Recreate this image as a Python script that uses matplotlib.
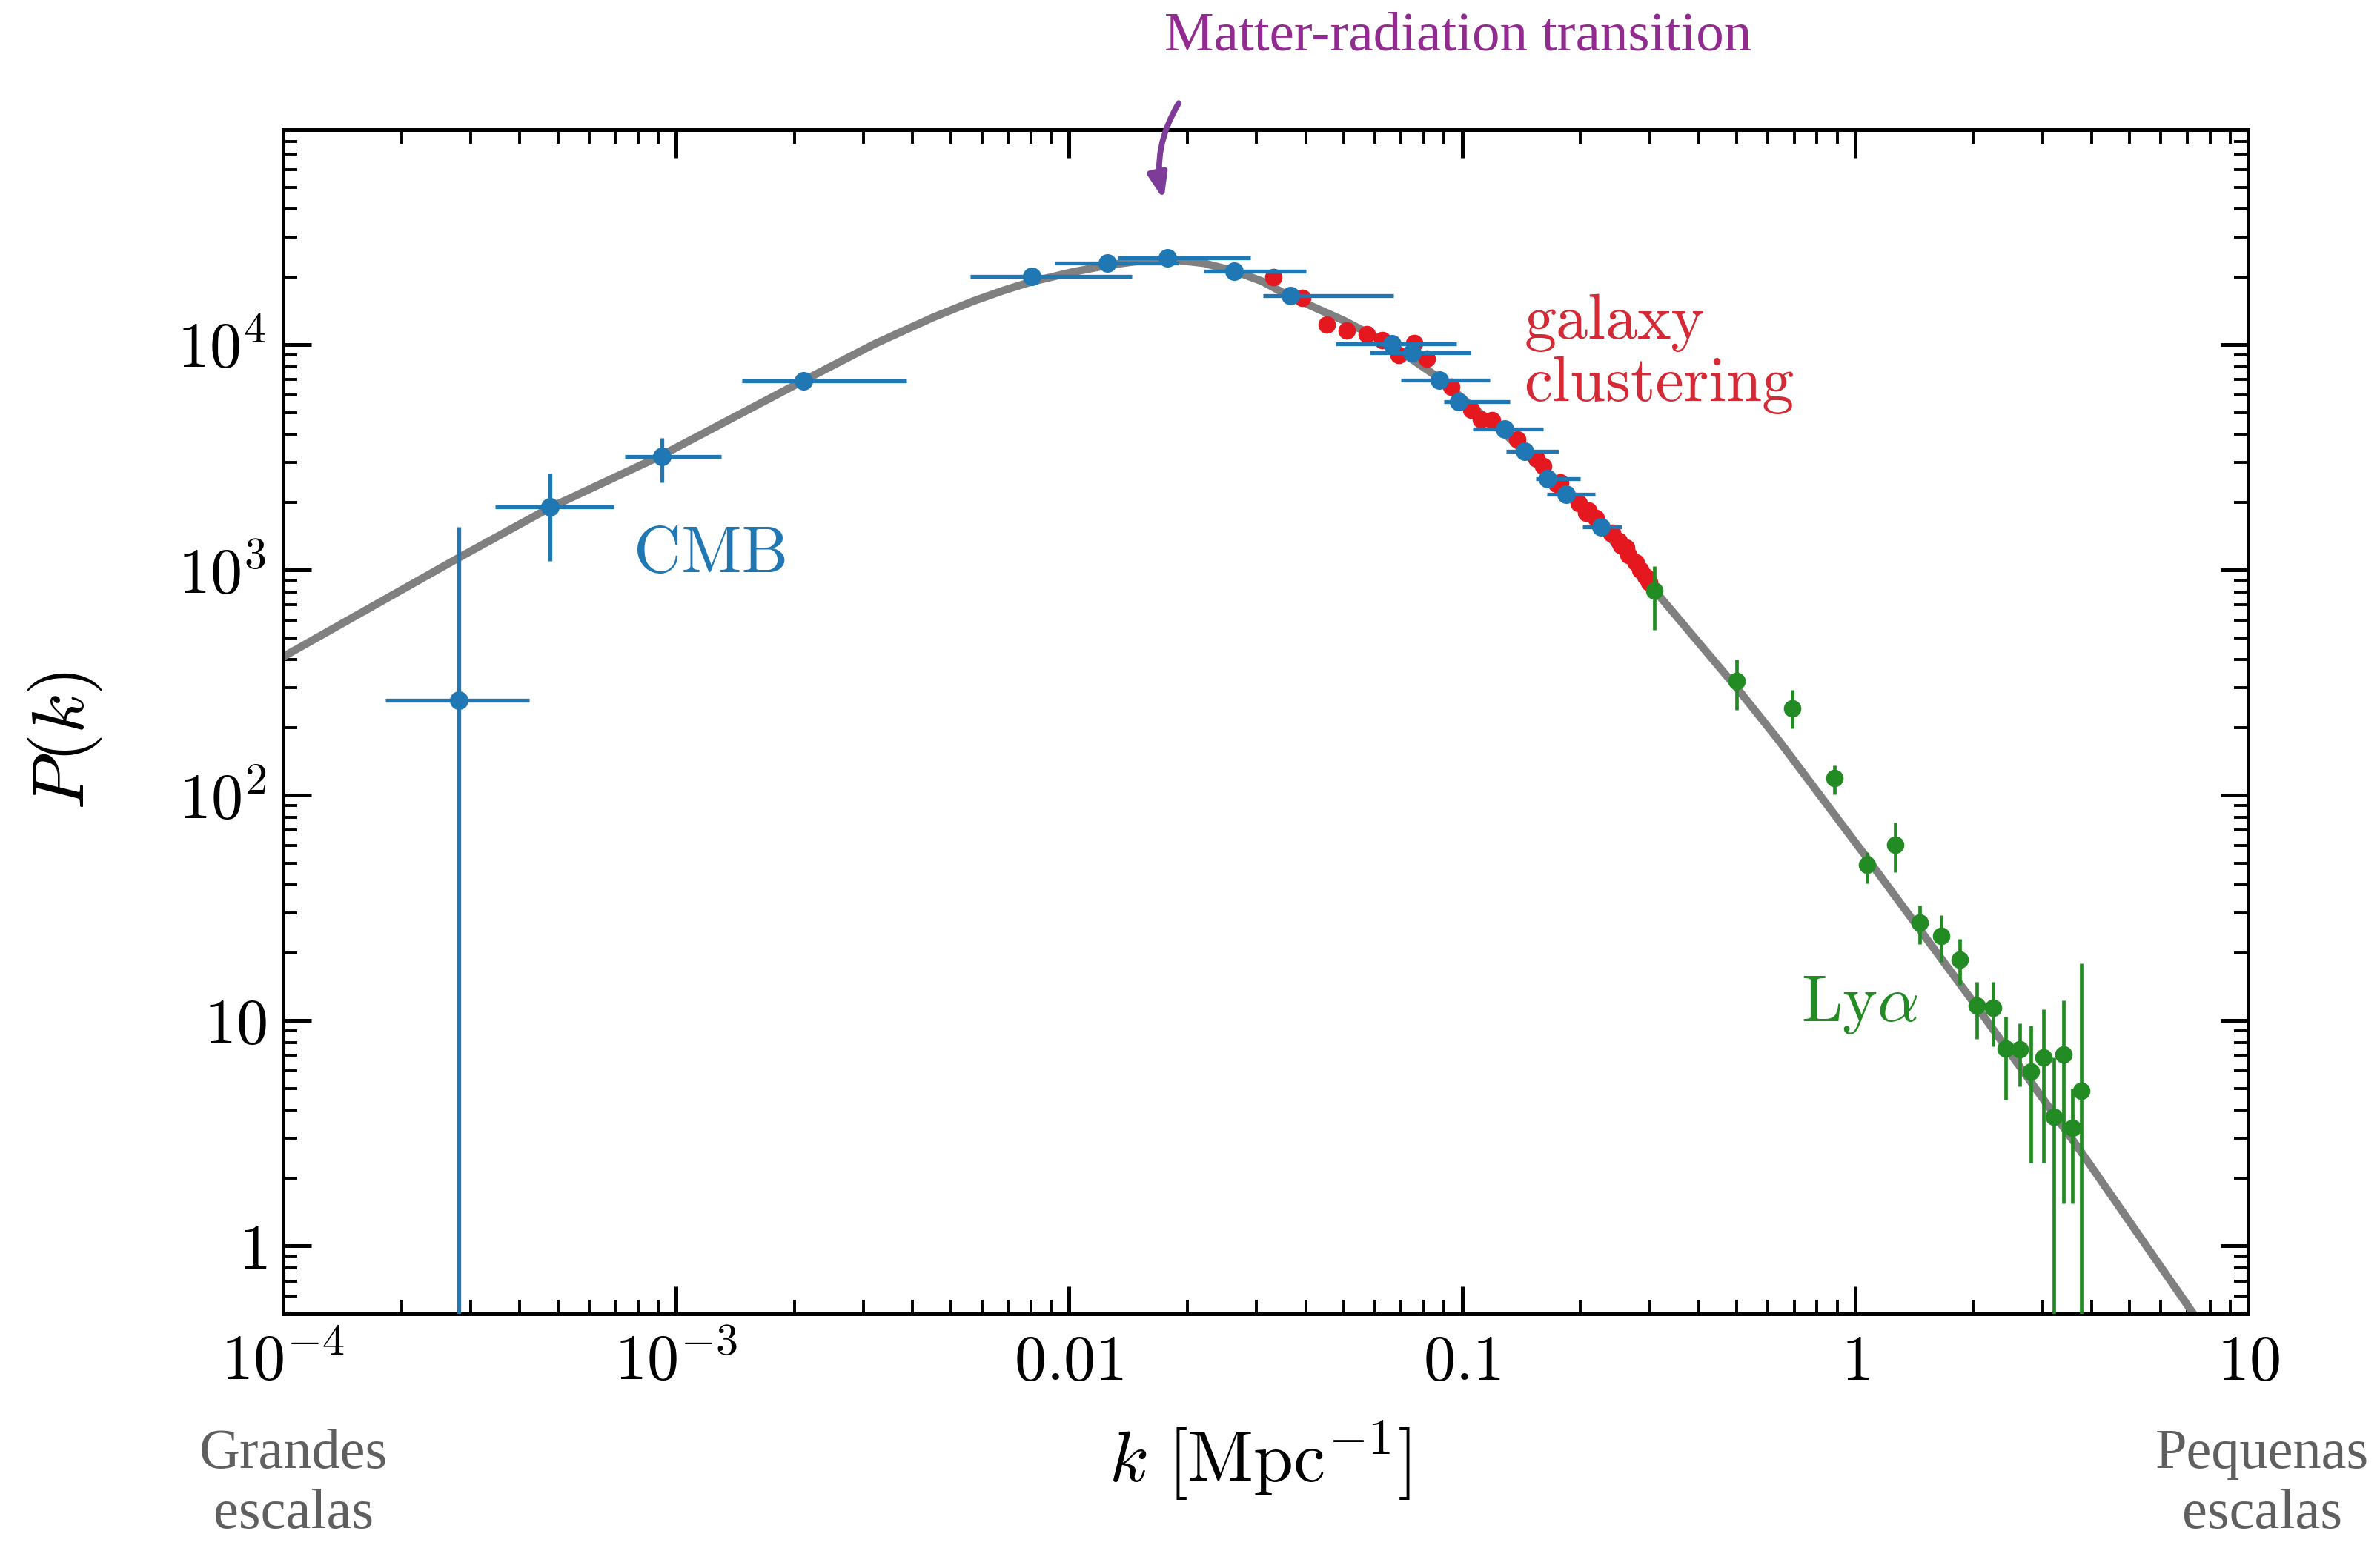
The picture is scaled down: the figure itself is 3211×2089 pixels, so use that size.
import numpy as np
import matplotlib
matplotlib.use('Agg')
import matplotlib.pyplot as plt
from matplotlib.ticker import LogLocator, NullFormatter

'''------DATA (read off the figure)------'''
# smooth theory curve
curve_k = [1e-4, 2.8e-4, 4.8e-4, 9.1e-4, 2.1e-3, 3.2e-3, 4.5e-3, 5.7e-3, 6.8e-3,
           8.0e-3, 1.02e-2, 1.25e-2, 1.5e-2, 1.78e-2, 2.2e-2, 2.64e-2, 3.1e-2,
           3.64e-2, 5.0e-2, 6.64e-2, 8.75e-2, 0.1, 0.128, 0.165, 0.2256, 0.309,
           0.5, 0.64, 1.07, 2.05, 3.77, 7.26, 8.0]
curve_P = [412, 1135, 1900, 3200, 6900, 10080, 13200, 15600, 17400,
           19000, 21000, 22500, 23500, 24000, 23000, 21200, 19100,
           16400, 12800, 9900, 7100, 5800, 4050, 2650, 1550, 812,
           300, 175, 53, 11.4, 2.6, 0.5, 0.39]

# CMB band powers (blue)
cmb_k = [2.8e-4, 4.78e-4, 9.2e-4, 2.11e-3, 8.05e-3, 0.0125, 0.0178, 0.0263, 0.0365,
         0.0664, 0.0746, 0.0875, 0.0982, 0.1283, 0.144, 0.1653, 0.1842, 0.2256]
cmb_P = [265, 1900, 3200, 6930, 20100, 23000, 24200, 21200, 16500,
         10070, 9230, 6980, 5570, 4220, 3360, 2545, 2163, 1557]
cmb_k_lo = [1.82e-4, 3.47e-4, 7.41e-4, 1.47e-3, 5.6e-3, 9.2e-3, 0.0133, 0.022, 0.0312,
            0.0477, 0.0583, 0.0699, 0.0899, 0.1063, 0.1293, 0.1538, 0.164, 0.2024]
cmb_k_hi = [4.22e-4, 6.95e-4, 1.3e-3, 3.86e-3, 0.01447, 0.019, 0.0289, 0.0401, 0.0668,
            0.0968, 0.1052, 0.1177, 0.132, 0.1606, 0.1765, 0.1996, 0.2177, 0.255]
cmb_P_lo = [0.01, 1094, 2440, 6930, 20100, 23000, 24200, 21200, 16500,
            10070, 9230, 6980, 5570, 4220, 3360, 2545, 2163, 1557]
cmb_P_hi = [1550, 2685, 3850, 6930, 20100, 23000, 24200, 21200, 16500,
            10070, 9230, 6980, 5570, 4220, 3360, 2545, 2163, 1557]

# galaxy clustering (red)
gal_k = [0.0331, 0.0392, 0.0452, 0.0508, 0.0571, 0.0627, 0.0689, 0.0757, 0.0813,
         0.094, 0.1055, 0.1118, 0.1193, 0.138, 0.1549, 0.1606, 0.1739, 0.1775,
         0.198, 0.207, 0.21, 0.2193, 0.2395, 0.241, 0.25, 0.2533, 0.262, 0.2647,
         0.2763, 0.2844, 0.2928, 0.2992]
gal_P = [19900, 16100, 12300, 11600, 11140, 10460, 9000, 10200, 8660,
         6480, 5160, 4670, 4610, 3810, 3110, 2890, 2420, 2445,
         1978, 1800, 1833, 1698, 1450, 1460, 1350, 1287, 1255, 1164,
         1079, 1000, 939, 881]

# Lyman-alpha forest (green)
lya_k = [0.309, 0.5005, 0.692, 0.888, 1.074, 1.266, 1.459, 1.658, 1.847, 2.043,
         2.241, 2.418, 2.62, 2.797, 3.017, 3.2, 3.387, 3.571, 3.767]
lya_P = [812, 322, 244, 119, 49.1, 60.4, 27.3, 23.7, 18.7, 11.7,
         11.45, 7.55, 7.46, 5.95, 6.87, 3.75, 7.06, 3.35, 4.89]
lya_P_lo = [541, 240, 198, 101, 40.6, 45.5, 21.8, 18.2, 14.4, 8.3,
            7.7, 4.45, 5.1, 2.34, 2.34, 0.01, 1.54, 1.54, 0.01]
lya_P_hi = [1037, 401, 294, 136, 56, 75.7, 32.4, 29.4, 23, 14.9,
            14.9, 10.4, 9.7, 9.5, 11.2, 6.87, 12.3, 4.98, 18.0]

xtick_vals = [1e-4, 1e-3, 1e-2, 1e-1, 1, 10]
xtick_labels = [r'$10^{-4}$', r'$10^{-3}$', r'$0.01$', r'$0.1$', r'$1$', r'$10$']
ytick_vals = [1, 10, 100, 1000, 1e4]
ytick_labels = [r'$1$', r'$10$', r'$10^2$', r'$10^3$', r'$10^4$']

'''------STYLE------'''
plt.rcParams['mathtext.fontset'] = 'cm'
plt.rcParams['font.family'] = ['cmr10', 'DejaVu Serif']
plt.rcParams['axes.unicode_minus'] = False

c_blue = '#1f77b4'
c_red = '#e5181f'
c_red_txt = '#d42a36'
c_green = '#238b23'
c_gray = '#808080'
c_purple_txt = '#912b90'
c_purple_arrow = '#7d3c98'
c_side = '#5f5f5f'

W, H = 3211, 2089
fig = plt.figure(figsize=(W / 200, H / 200), dpi=200)
ax = fig.add_axes([382 / W, 1 - 1773 / H, (3033 - 382) / W, (1773 - 175) / H])

'''------PLOT------'''
ax.plot(curve_k, curve_P, color=c_gray, lw=3.8, zorder=2, solid_capstyle='butt',
        solid_joinstyle='round')

ax.plot(gal_k, gal_P, 'o', color=c_red, ms=8.5, mew=0, zorder=3)

k = np.array(cmb_k)
P = np.array(cmb_P)
xerr = [k - np.array(cmb_k_lo), np.array(cmb_k_hi) - k]
yerr = [P - np.array(cmb_P_lo), np.array(cmb_P_hi) - P]
ax.errorbar(k, P, xerr=xerr, yerr=yerr, fmt='o', color=c_blue, ms=9, mew=0,
            elinewidth=1.9, capsize=0, zorder=4)

kl = np.array(lya_k)
Pl = np.array(lya_P)
yerr_l = [Pl - np.array(lya_P_lo), np.array(lya_P_hi) - Pl]
ax.errorbar(kl, Pl, yerr=yerr_l, fmt='o', color=c_green, ms=8.5, mew=0,
            elinewidth=1.7, capsize=0, zorder=4)

ax.set_xscale('log')
ax.set_yscale('log')
ax.set_xlim(1e-4, 10)
ax.set_ylim(0.5, 9.0e4)

ax.set_xticks(xtick_vals, xtick_labels)
ax.set_yticks(ytick_vals, ytick_labels)
ax.xaxis.set_minor_locator(LogLocator(base=10, subs=np.arange(2, 10), numticks=100))
ax.yaxis.set_minor_locator(LogLocator(base=10, subs=np.arange(2, 10), numticks=100))
ax.xaxis.set_minor_formatter(NullFormatter())
ax.yaxis.set_minor_formatter(NullFormatter())

ax.tick_params(which='major', direction='in', length=13.5, width=1.8,
               top=True, right=True, labelsize=31)
ax.tick_params(which='minor', direction='in', length=7, width=1.4,
               top=True, right=True)
ax.tick_params(axis='x', which='major', pad=32)
ax.tick_params(axis='y', which='major', pad=8)
for lab in ax.get_xticklabels():
    lab.set_va('baseline')
for sp in ax.spines.values():
    sp.set_linewidth(1.8)

ax.set_xlabel(r'$k\ [\mathrm{Mpc}^{-1}]$', fontsize=35)
ax.xaxis.label.set_va('center')
ax.xaxis.set_label_coords(0.497, -0.124)
ax.set_ylabel(r'$P(k)$', fontsize=36)
ax.yaxis.label.set_va('center')
ax.yaxis.set_label_coords(-0.111, 0.484)

'''------ANNOTATIONS------'''
ax.text(7.8e-4, 980, 'CMB', color=c_blue, fontsize=32, va='baseline', ha='left')
# baseline of the last line ("clustering")
ax.text(0.144, 5610, 'galaxy\nclustering', color=c_red_txt, fontsize=31,
        va='baseline', ha='left', linespacing=1.1)
ax.text(0.729, 9.93, r'Ly$\alpha$', color=c_green, fontsize=32, va='baseline', ha='left')

ax.annotate('', xy=(0.0174, 4.4e4), xytext=(0.019, 1.18e5),
            arrowprops=dict(arrowstyle='-|>,head_length=1.0,head_width=0.38',
                            color=c_purple_arrow, lw=2.8,
                            connectionstyle='arc3,rad=0.2', shrinkA=0, shrinkB=0),
            annotation_clip=False)

fig.text(1967 / W, 1 - 68 / H, 'Matter-radiation transition', color=c_purple_txt,
         fontsize=27, family=['Liberation Serif', 'DejaVu Serif'],
         ha='center', va='baseline')
fig.text(396 / W, 1 - 1928 / H, 'Grandes\nescalas', color=c_side, fontsize=27.5,
         family=['Liberation Serif', 'DejaVu Serif'], ha='center', va='top',
         linespacing=1.22)
fig.text(3052 / W, 1 - 1928 / H, 'Pequenas\nescalas', color=c_side, fontsize=27.5,
         family=['Liberation Serif', 'DejaVu Serif'], ha='center', va='top',
         linespacing=1.22)

fig.savefig('out.png', dpi=200, facecolor='white')
